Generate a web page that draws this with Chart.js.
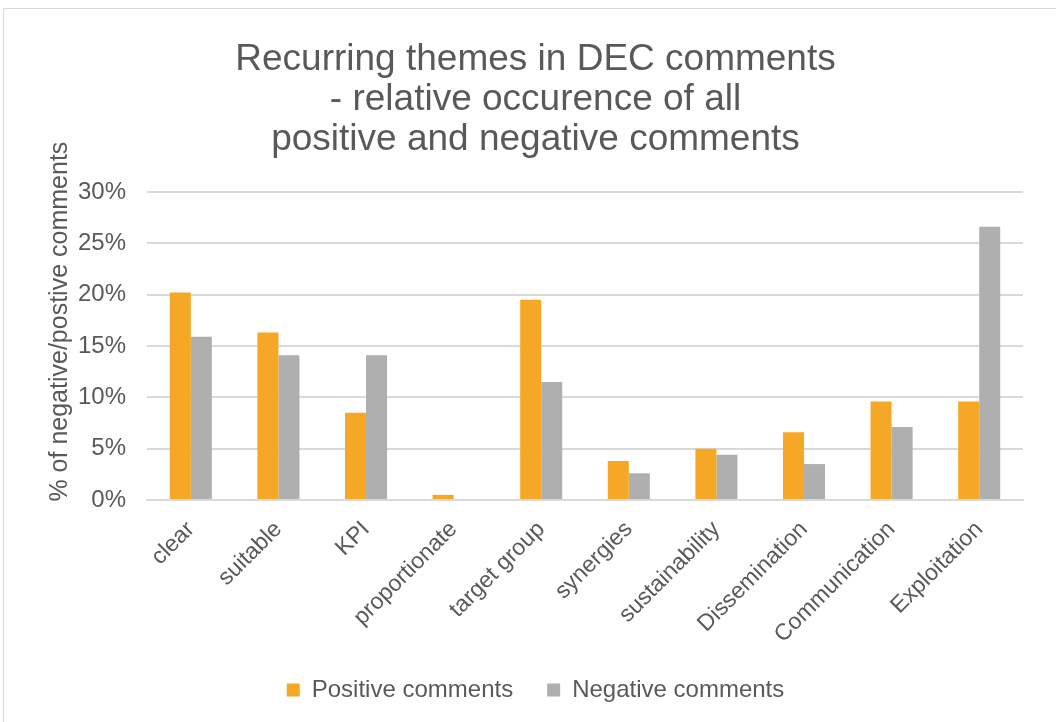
<!DOCTYPE html>
<html>
<head>
<meta charset="utf-8">
<script src="https://cdn.jsdelivr.net/npm/chart.js@4/dist/chart.umd.min.js"></script>
<style>
  html, body { margin: 0; padding: 0; background: #fff; }
  #wrap { position: relative; width: 1056px; height: 722px; }
  #frame { position: absolute; left: 3px; top: 8px; width: 1100px; height: 800px; border: 1px solid #d9d9d9; }
  #chart { position: absolute; left: 0; top: 0; }
</style>
</head>
<body>
<div id="wrap">
  <div id="frame"></div>
  <canvas id="chart" width="1056" height="722"></canvas>
</div>
<script>
const themes = ["clear", "suitable", "KPI", "proportionate", "target group",
  "synergies", "sustainability", "Dissemination", "Communication", "Exploitation"];
const positive = [20.2, 16.3, 8.5, 0.5, 19.5, 3.8, 5.0, 6.6, 9.6, 9.6];
const negative = [15.9, 14.1, 14.1, 0, 11.5, 2.6, 4.4, 3.5, 7.1, 26.6];
const yTicks = [0, 5, 10, 15, 20, 25, 30];

const font = "'Liberation Sans', Arial, sans-serif";
const grey = "#595959";

const ctx = document.querySelector("#chart").getContext("2d");

new Chart(ctx, {
  type: "bar",
  data: {
    labels: themes,
    datasets: [
      {
        label: "Positive comments",
        data: positive,
        backgroundColor: "#f5a826",
        categoryPercentage: 0.48,
        barPercentage: 1.0
      },
      {
        label: "Negative comments",
        data: negative,
        backgroundColor: "#afafaf",
        categoryPercentage: 0.48,
        barPercentage: 1.0
      }
    ]
  },
  options: {
    responsive: false,
    animation: false,
    layout: { padding: { left: 48, right: 33, top: 40, bottom: 10 } },
    plugins: {
      title: {
        display: true,
        text: ["Recurring themes in DEC comments", "- relative occurence of all", "positive and negative comments"],
        color: grey,
        font: { family: font, size: 37, weight: "normal", lineHeight: 1.08 },
        padding: { top: 0, bottom: 32 }
      },
      legend: {
        position: "bottom",
        labels: {
          color: grey,
          font: { family: font, size: 24 },
          boxWidth: 13,
          boxHeight: 13,
          padding: 34
        }
      },
      tooltip: { enabled: false }
    },
    scales: {
      x: {
        grid: { display: false },
        border: { color: "#d9d9d9", width: 2 },
        ticks: {
          color: grey,
          font: { family: font, size: 23 },
          minRotation: 45,
          maxRotation: 45,
          padding: 8
        },
        afterFit: axis => {
          // first label may hang past the plot's left edge
          axis.paddingLeft = 0;
          axis.height -= 12.5;
        }
      },
      y: {
        min: 0,
        max: 30,
        afterBuildTicks: axis => { axis.ticks = yTicks.map(v => ({ value: v })); },
        grid: { color: "#d9d9d9", lineWidth: 2, drawTicks: false },
        border: { display: false },
        ticks: {
          color: grey,
          font: { family: font, size: 24 },
          padding: 21,
          callback: v => v + "%"
        },
        title: {
          display: true,
          text: "       % of negative/postive comments",
          color: grey,
          font: { family: font, size: 25 },
          padding: { top: -3, bottom: -18 }
        }
      }
    }
  }
});
</script>
</body>
</html>
